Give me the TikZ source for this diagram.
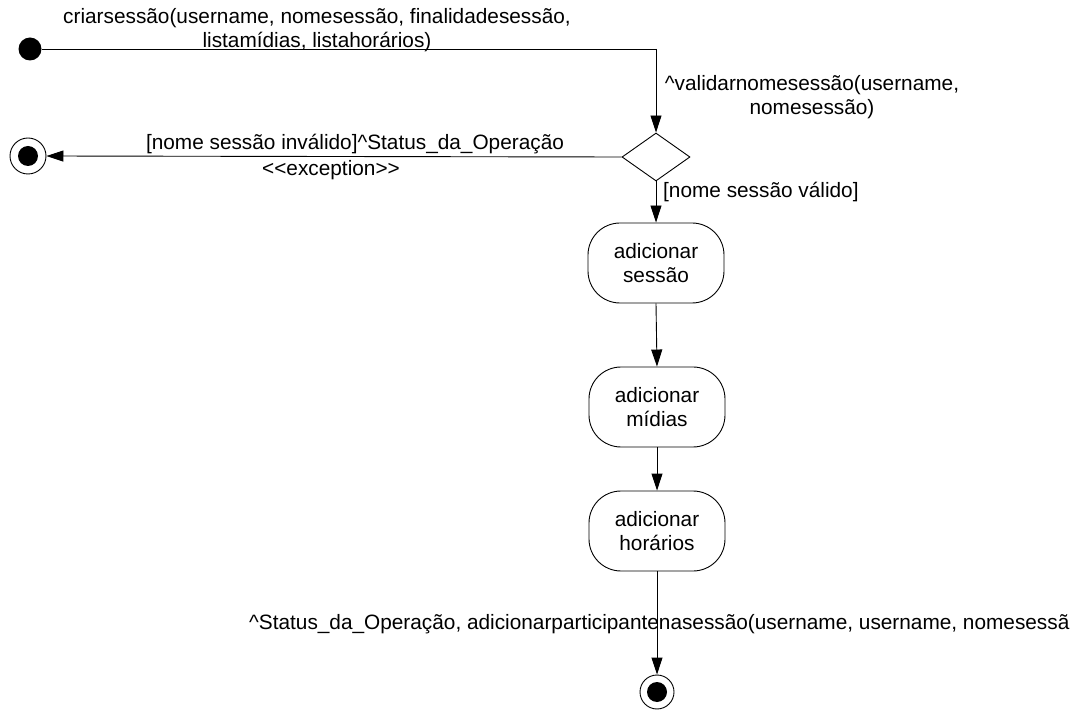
\documentclass[tikz,border=0pt]{standalone}
\usepackage{fontspec}
\setmainfont{Liberation Sans}
\usetikzlibrary{arrows.meta,shapes.geometric}
\begin{document}
\begin{tikzpicture}[x=1pt,y=-1pt,
  every node/.style={font=\fontsize{20.8}{24}\selectfont},
  line/.style={draw=black,line width=0.9pt},
  arr/.style={line,-{Triangle[length=17pt,width=11pt]}},
  act/.style={draw,line width=0.9pt,rounded corners=32pt,minimum width=136pt,minimum height=80pt,align=center,inner sep=0pt},
  lbl/.style={inner sep=0pt,align=center}]
\useasboundingbox (0,0) rectangle (1088,711);
\clip (0,0) rectangle (1088,711);
% nodes
\node[circle,fill=black,minimum size=23pt,inner sep=0pt] (start) at (30,49) {};
\coordinate (corner) at (656,49);
\node[diamond,draw,line width=0.9pt,minimum width=68pt,minimum height=48pt,inner sep=0pt] (dec) at (656,157) {};
\node[circle,draw,line width=0.9pt,minimum size=36pt,inner sep=0pt] (fin1) at (28,156) {};
\fill (fin1.center) circle (10);
\node[act] (a1) at (656,263) {adicionar\\sessão};
\node[act] (a2) at (657,407) {adicionar\\mídias};
\node[act] (a3) at (657,531) {adicionar\\horários};
\node[circle,draw,line width=0.9pt,minimum size=34pt,inner sep=0pt] (fin2) at (657,692) {};
\fill (fin2.center) circle (10);
% labels
\node[lbl] (l1) at (317,30) {criarsessão(username, nomesessão, finalidadesessão,\\listamídias, listahorários)};
\node[lbl] (l2) at (812,97) {\textasciicircum validarnomesessão(username,\\nomesessão)};
\node[lbl] (l3) at (355,144) {[nome sessão inválido]\textasciicircum Status\_da\_Operação};
\node[lbl] (l4) at (331,170) {<\kern0pt<exception>\kern0pt>};
\node[lbl,anchor=west] (l5) at (663,192) {[nome sessão válido]};
\node[lbl,anchor=west] (l6) at (249,624) {\textasciicircum Status\_da\_Operação, adicionarparticipantenasessão(username, username, nomesessã};
% connectors
\draw[line] (start) -- (corner);
\draw[arr] (corner) -- (dec.north);
\draw[arr] (dec.west) -- (fin1.east);
\draw[arr] (dec.south) -- (a1.north);
\draw[arr] (a1.south) -- (a2.north);
\draw[arr] (a2.south) -- (a3.north);
\draw[arr] (a3.south) -- (fin2.north);
\end{tikzpicture}
\end{document}
